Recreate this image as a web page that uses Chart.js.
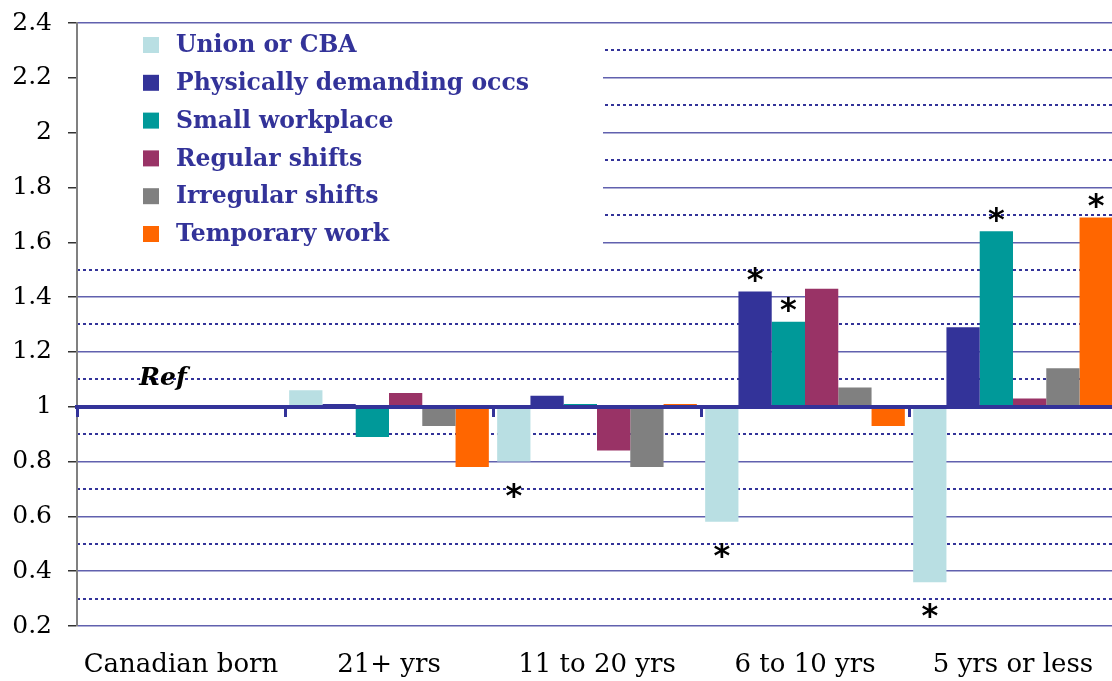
<!DOCTYPE html>
<html>
<head>
<meta charset="utf-8">
<script src="https://cdn.jsdelivr.net/npm/chart.js@4.4.1/dist/chart.umd.min.js"></script>
<style>
  html, body { margin: 0; padding: 0; background: #fff; overflow: hidden; }
  #wrap { width: 1118px; height: 681px; }
</style>
</head>
<body>
<div id="wrap"><canvas id="chart"></canvas></div>
<script>
// categories (years since immigration)
const categories = ["Canadian born", "21+ yrs", "11 to 20 yrs", "6 to 10 yrs", "5 yrs or less"];

// odds ratios, Canadian born = reference (1)
const unionCba = [1, 1.06, 0.80, 0.58, 0.36];
const physicallyDemanding = [1, 1.01, 1.04, 1.42, 1.29];
const smallWorkplace = [1, 0.89, 1.01, 1.31, 1.64];
const regularShifts = [1, 1.05, 0.84, 1.43, 1.03];
const irregularShifts = [1, 0.93, 0.78, 1.07, 1.14];
const temporaryWork = [1, 0.78, 1.01, 0.93, 1.69];

// 1 = statistically significant (marked with *)
const unionSig = [0, 0, 1, 1, 1];
const physicalSig = [0, 0, 0, 1, 0];
const smallSig = [0, 0, 0, 1, 1];
const regularSig = [0, 0, 0, 0, 0];
const irregularSig = [0, 0, 0, 0, 0];
const temporarySig = [0, 0, 0, 0, 1];

const yTicks = [0.2, 0.4, 0.6, 0.8, 1, 1.2, 1.4, 1.6, 1.8, 2, 2.2, 2.4];
const yMinorTicks = [0.3, 0.5, 0.7, 0.9, 1.1, 1.3, 1.5, 1.7, 1.9, 2.1, 2.3];
const refValue = 1;

const series = [
  { label: "Union or CBA", values: unionCba, sig: unionSig, color: "#B9DFE3" },
  { label: "Physically demanding occs", values: physicallyDemanding, sig: physicalSig, color: "#333399" },
  { label: "Small workplace", values: smallWorkplace, sig: smallSig, color: "#009999" },
  { label: "Regular shifts", values: regularShifts, sig: regularSig, color: "#993366" },
  { label: "Irregular shifts", values: irregularShifts, sig: irregularSig, color: "#808080" },
  { label: "Temporary work", values: temporaryWork, sig: temporarySig, color: "#FF6600" }
];

const setTicks = (arr) => (scale) => {
  scale.ticks = arr.map(v => ({ value: v }));
};

// white box with the legend, inside the plot
const legendBox = {
  id: "legendBox",
  beforeDatasetsDraw(chart) {
    const { ctx, chartArea } = chart;
    ctx.save();
    ctx.fillStyle = "#fff";
    ctx.fillRect(chartArea.left + 1, chartArea.top + 1, 525, 231);
    ctx.font = 'bold 23.5px "DejaVu Serif"';
    ctx.textBaseline = "middle";
    chart.data.datasets.forEach((ds, i) => {
      const y = chartArea.top + 22 + i * 37.8;
      ctx.fillStyle = ds.backgroundColor;
      ctx.fillRect(chartArea.left + 66, y - 8, 16, 16);
      ctx.fillStyle = "#333399";
      ctx.fillText(ds.label, chartArea.left + 99, y + 1);
    });
    ctx.restore();
  }
};

// asterisks + "Ref" label
const marks = {
  id: "marks",
  afterDatasetsDraw(chart) {
    const { ctx } = chart;
    const yScale = chart.scales.y;
    const xScale = chart.scales.x;
    ctx.save();
    ctx.fillStyle = "#000";
    ctx.textAlign = "center";
    const fs = 32;
    ctx.font = 'bold ' + fs + 'px "DejaVu Sans"';
    ctx.textBaseline = "alphabetic";
    series.forEach((s, i) => {
      const meta = chart.getDatasetMeta(i);
      s.sig.forEach((flag, j) => {
        if (!flag) return;
        const bar = meta.data[j];
        const end = yScale.getPixelForValue(s.values[j]);
        const up = s.values[j] > refValue;
        const cy = up ? end - 21 : end + 25;
        ctx.fillText("*", bar.x, cy + 0.6 * fs);
      });
    });
    ctx.font = 'italic bold 25px "DejaVu Serif"';
    ctx.textBaseline = "middle";
    ctx.fillText("Ref", xScale.getPixelForValue(0) - 18, yScale.getPixelForValue(1.1) - 1);
    ctx.restore();
  }
};

new Chart(document.getElementById("chart"), {
  type: "bar",
  data: {
    labels: categories,
    datasets: series.map(s => ({
      label: s.label,
      data: s.values.map(v => [refValue, v]),
      backgroundColor: s.color,
      borderWidth: 0,
      categoryPercentage: 0.96,
      barPercentage: 1,
      xAxisID: "x",
      yAxisID: "y"
    }))
  },
  options: {
    responsive: true,
    maintainAspectRatio: false,
    animation: false,
    layout: { padding: { top: 23, left: 10, right: 1, bottom: 1 } },
    plugins: {
      legend: { display: false },
      tooltip: { enabled: false }
    },
    scales: {
      x: {
        type: "category",
        offset: true,
        afterFit: (s) => { s.height = 54; },
        grid: { display: false, drawTicks: false },
        border: { display: false },
        ticks: {
          color: "#000",
          padding: 24,
          maxRotation: 0,
          font: { family: "DejaVu Serif", size: 26 }
        }
      },
      xRef: {
        type: "category",
        position: { y: refValue },
        offset: true,
        grid: {
          z: 1,
          offset: true,
          drawOnChartArea: false,
          tickLength: 8,
          tickWidth: 3,
          tickColor: "#333399"
        },
        border: { z: 1, color: "#333399", width: 4 },
        ticks: { display: false }
      },
      y: {
        min: 0.2,
        max: 2.4,
        afterBuildTicks: setTicks(yTicks),
        afterFit: (s) => { s.width = 67; s.paddingTop = 0; s.paddingBottom = 0; },
        grid: {
          color: "#6161AE",
          lineWidth: 1.5,
          tickLength: 9,
          tickColor: "#333",
          tickWidth: 1.5
        },
        border: { color: "#808080", width: 2 },
        ticks: {
          color: "#000",
          padding: 16,
          font: { family: "DejaVu Serif", size: 25 },
          callback: (v) => String(v)
        }
      },
      yMinor: {
        position: "right",
        min: 0.2,
        max: 2.4,
        afterBuildTicks: setTicks(yMinorTicks),
        afterFit: (s) => { s.width = 0; },
        grid: { color: "#333399", lineWidth: 2, drawTicks: false },
        border: { display: false, dash: [3, 3] },
        ticks: { display: false }
      }
    }
  },
  plugins: [legendBox, marks]
});
</script>
</body>
</html>
